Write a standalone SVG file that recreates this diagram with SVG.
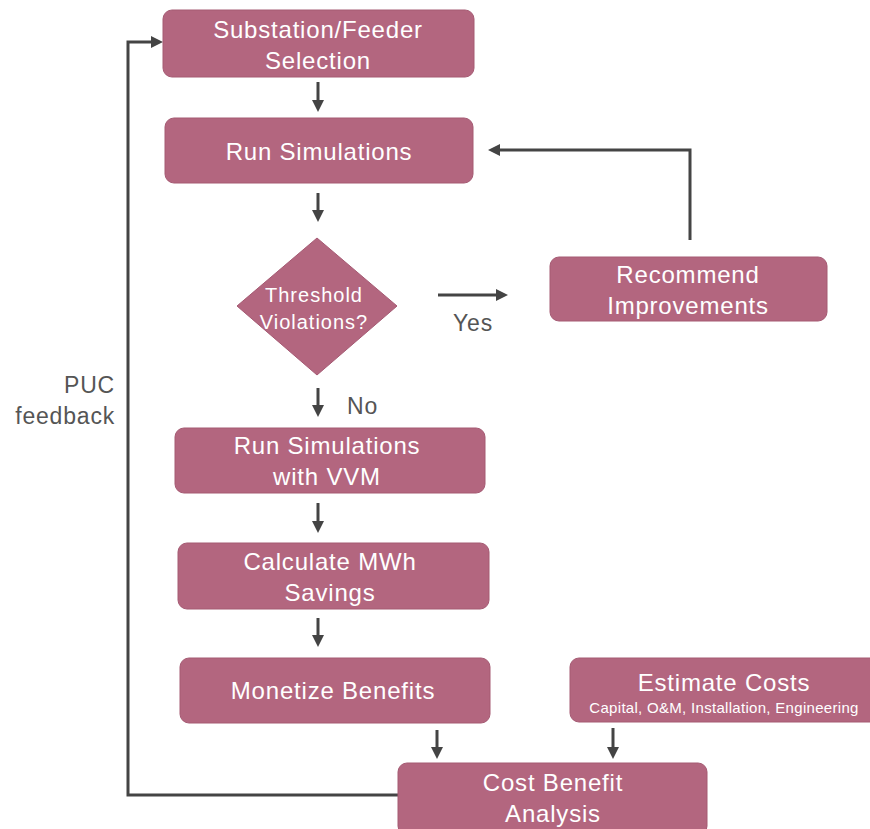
<svg xmlns="http://www.w3.org/2000/svg" width="870" height="829" viewBox="0 0 870 829">
<style>
.box{fill:#b3667f;stroke:#a55a73;stroke-width:1}
.t{font-family:"Liberation Sans",Arial,sans-serif;fill:#ffffff;text-anchor:middle}
.big{font-size:24px;letter-spacing:0.8px}
.mid{font-size:20px;letter-spacing:1px}
.sm{font-size:15px;letter-spacing:0.3px}
.lbl{font-family:"Liberation Sans",Arial,sans-serif;fill:#555555;font-size:23px;letter-spacing:0.8px}
.ln{stroke:#444444;stroke-width:3;fill:none}
</style>
<defs>
<marker id="ah" markerWidth="4" markerHeight="4" refX="2" refY="2" orient="auto" markerUnits="strokeWidth">
<path d="M0,0 L4,2 L0,4 Z" fill="#444444"/>
</marker>
</defs>
<rect width="870" height="829" fill="#ffffff"/>
<g id="connectors">
<line class="ln" x1="318" y1="82" x2="318" y2="106" marker-end="url(#ah)"/>
<line class="ln" x1="318" y1="193" x2="318" y2="216" marker-end="url(#ah)"/>
<line class="ln" x1="438" y1="295" x2="502" y2="295" marker-end="url(#ah)"/>
<line class="ln" x1="318" y1="388" x2="318" y2="411" marker-end="url(#ah)"/>
<polyline class="ln" points="690,240 690,150 494,150" marker-end="url(#ah)"/>
<line class="ln" x1="318" y1="503" x2="318" y2="527" marker-end="url(#ah)"/>
<line class="ln" x1="318" y1="618" x2="318" y2="641" marker-end="url(#ah)"/>
<line class="ln" x1="437" y1="730" x2="437" y2="753" marker-end="url(#ah)"/>
<line class="ln" x1="613" y1="728" x2="613" y2="753" marker-end="url(#ah)"/>
<polyline class="ln" points="398,795 128,795 128,42 157,42" marker-end="url(#ah)"/>
<text class="lbl" x="473" y="331" text-anchor="middle">Yes</text>
<text class="lbl" x="347" y="414">No</text>
<text class="lbl" x="115" y="393" text-anchor="end">PUC</text>
<text class="lbl" x="115" y="424" text-anchor="end">feedback</text>
</g>
<g id="n1">
<rect class="box" x="163" y="10" width="311" height="67" rx="9"/>
<text class="t big" x="318" y="38">Substation/Feeder</text>
<text class="t big" x="318" y="69">Selection</text>
</g>
<g id="n2">
<rect class="box" x="165" y="118" width="308" height="65" rx="9"/>
<text class="t big" x="319" y="160">Run Simulations</text>
</g>
<g id="n3">
<polygon class="box" points="317,238 397,306 317,375 237,306"/>
<text class="t mid" x="314" y="302">Threshold</text>
<text class="t mid" x="314" y="329">Violations?</text>
</g>
<g id="n4">
<rect class="box" x="550" y="257" width="277" height="64" rx="9"/>
<text class="t big" x="688" y="283">Recommend</text>
<text class="t big" x="688" y="314">Improvements</text>
</g>
<g id="n5">
<rect class="box" x="175" y="428" width="310" height="65" rx="9"/>
<text class="t big" x="327" y="454">Run Simulations</text>
<text class="t big" x="327" y="485">with VVM</text>
</g>
<g id="n6">
<rect class="box" x="178" y="543" width="311" height="66" rx="9"/>
<text class="t big" x="330" y="570">Calculate MWh</text>
<text class="t big" x="330" y="601">Savings</text>
</g>
<g id="n7">
<rect class="box" x="180" y="658" width="310" height="65" rx="9"/>
<text class="t big" x="333" y="699">Monetize Benefits</text>
</g>
<g id="n8">
<rect class="box" x="570" y="658" width="310" height="64" rx="9"/>
<text class="t big" x="724" y="691">Estimate Costs</text>
<text class="t sm" x="724" y="713">Capital, O&amp;M, Installation, Engineering</text>
</g>
<g id="n9">
<rect class="box" x="398" y="763" width="309" height="72" rx="9"/>
<text class="t big" x="553" y="791">Cost Benefit</text>
<text class="t big" x="553" y="822">Analysis</text>
</g>
</svg>
